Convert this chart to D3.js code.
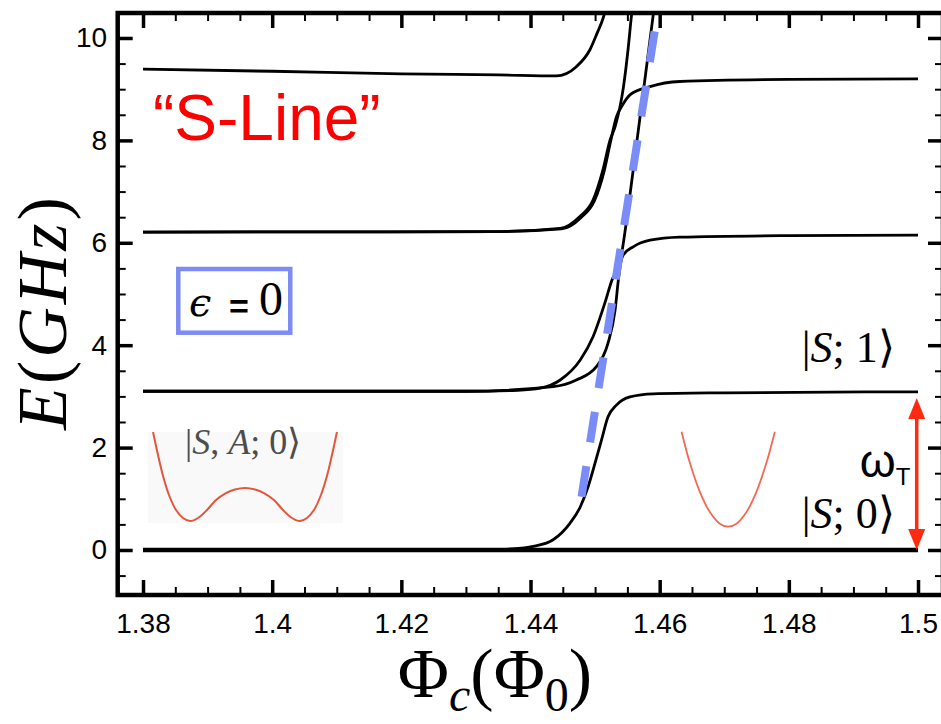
<!DOCTYPE html>
<html><head><meta charset="utf-8">
<script src="https://cdn.jsdelivr.net/npm/d3@7"></script>
<style>body{margin:0;background:#fff}svg{display:block}</style>
</head><body>
<svg id="c" width="941" height="724"></svg>
<script>
// ---- tick data ----
const xTicks = [1.38, 1.40, 1.42, 1.44, 1.46, 1.48, 1.50];
const xTickLabels = ["1.38", "1.4", "1.42", "1.44", "1.46", "1.48", "1.5"];
const yTicks = [0, 2, 4, 6, 8, 10];
const yTickLabels = ["0", "2", "4", "6", "8", "10"];

// ---- energy levels [flux Φc, E (GHz)] ----
const groundLevel = [[1.38, 0], [1.5, 0]];
const level1 = [[1.38,0],[1.432,0],[1.437,0.02],[1.4404,0.07],[1.4435,0.2],[1.4461,0.52],[1.4477,0.84],[1.4489,1.23],[1.4500,1.70],[1.4510,2.15],[1.4520,2.60],[1.4533,2.83],[1.4554,2.99],[1.4590,3.05],[1.470,3.07],[1.5,3.09]];
const level2a = [[1.38,3.1],[1.43,3.1],[1.438,3.12],[1.4415,3.16],[1.4446,3.32],[1.4477,3.71],[1.4497,4.17],[1.4515,4.82],[1.4526,5.27],[1.45385,5.62],[1.4553,6.84],[1.4565,8.01],[1.4577,9.18],[1.4590,10.45],[1.45915,10.6]];
const level2b = [[1.38,3.1],[1.43,3.1],[1.4435,3.19],[1.4471,3.32],[1.4502,3.58],[1.4520,4.04],[1.4531,4.69],[1.4536,5.27],[1.45395,5.6],[1.45435,5.76],[1.4559,5.92],[1.4585,6.05],[1.4631,6.11],[1.48,6.14],[1.5,6.15]];
const level3a = [[1.38,6.21],[1.435,6.22],[1.4446,6.28],[1.4476,6.51],[1.4497,6.84],[1.4512,7.42],[1.4523,8.0],[1.4531,8.27],[1.4544,9.05],[1.4551,9.77],[1.45565,10.45],[1.4558,10.6]];
const level3b = [[1.38,6.21],[1.435,6.22],[1.4448,6.27],[1.4478,6.49],[1.4499,6.82],[1.4514,7.40],[1.4524,7.98],[1.4533,8.46],[1.4541,8.66],[1.4554,8.89],[1.4585,9.05],[1.4631,9.15],[1.48,9.19],[1.5,9.2]];
const level4 = [[1.38,9.39],[1.40,9.35],[1.42,9.30],[1.435,9.28],[1.444,9.26],[1.4471,9.44],[1.4492,9.77],[1.4503,10.09],[1.4513,10.41],[1.4517,10.6]];
const sLine = [[1.4479,1.04],[1.4593,10.19]];

// ---- inset potentials (drawn in chart units) ----
const doubleWell = [[1.38155,2.305],[1.38232,1.855],[1.38310,1.445],[1.38402,1.074],[1.38511,0.781],[1.38619,0.625],[1.38728,0.566],[1.38851,0.625],[1.38991,0.781],[1.39130,0.977],[1.39285,1.113],[1.39424,1.182],[1.39579,1.211],[1.39734,1.182],[1.39873,1.113],[1.40028,0.977],[1.40167,0.781],[1.40307,0.625],[1.40430,0.566],[1.40539,0.625],[1.40647,0.781],[1.40755,1.074],[1.40848,1.445],[1.40926,1.855],[1.41003,2.305]];
const singleWell = [[1.46339,2.311],[1.46467,1.703],[1.46622,1.137],[1.46777,0.742],[1.46932,0.514],[1.47060,0.455],[1.47189,0.514],[1.47344,0.742],[1.47498,1.137],[1.47653,1.703],[1.47783,2.311]];
const gapArrow = [2.97, 0];

const svg = d3.select('#c');
svg.append('rect').attr('width', 941).attr('height', 724).attr('fill', '#fff');

const x = d3.scaleLinear().domain([1.37608, 1.50387]).range([117.7, 943]);
const y = d3.scaleLinear().domain([-0.879, 10.488]).range([595, 13]);
const [x0, x1] = x.range();
const [yb, yt] = y.range();

svg.append('defs').append('clipPath').attr('id', 'clip')
  .append('rect').attr('x', x0).attr('y', yt).attr('width', x1 - x0).attr('height', yb - yt);

const plot = svg.append('g').attr('clip-path', 'url(#clip)');
const line = d3.line().x(d => x(d[0])).y(d => y(d[1])).curve(d3.curveMonotoneX);
const lineC = d3.line().x(d => x(d[0])).y(d => y(d[1])).curve(d3.curveCatmullRom);

// inset background and wells
plot.append('rect').attr('x', x(1.38077)).attr('y', y(2.305)).attr('width', x(1.41096) - x(1.38077))
  .attr('height', y(0.527) - y(2.305)).attr('fill', '#f9f9f9');
plot.append('path').attr('d', lineC(doubleWell)).attr('fill', 'none').attr('stroke', '#e4553c').attr('stroke-width', 2);
plot.append('path').attr('d', lineC(singleWell)).attr('fill', 'none').attr('stroke', '#f26a55').attr('stroke-width', 1.8);

// levels
[level1, level2a, level2b, level3a, level3b, level4].forEach(l => {
  plot.append('path').attr('d', line(l)).attr('fill', 'none').attr('stroke', '#000').attr('stroke-width', 2.8);
});
plot.append('path').attr('d', line(groundLevel)).attr('fill', 'none').attr('stroke', '#000').attr('stroke-width', 4.5);

// dashed S-line
plot.append('path').attr('d', d3.line().x(d => x(d[0])).y(d => y(d[1]))(sLine))
  .attr('fill', 'none').attr('stroke', '#7a8cf8').attr('stroke-width', 8).attr('stroke-dasharray', '31,24');

// axes (inward ticks on all sides)
const xMinor = d3.range(277, 301).filter(i => i % 4 !== 0).map(i => i / 200);
const yMinor = d3.range(-1, 21).filter(i => i % 4 !== 0).map(i => i / 2);
const font = 'Liberation Sans, Arial, Helvetica, sans-serif';

function axisG(axisFn, scale, vals, size, pad, transform, labels) {
  const a = axisFn(scale).tickValues(vals).tickSize(-size).tickPadding(pad);
  if (labels) a.tickFormat((d, i) => labels[i]); else a.tickFormat('');
  const g = svg.append('g').attr('transform', transform).call(a);
  g.select('.domain').remove();
  g.selectAll('.tick line').attr('stroke', '#000').attr('stroke-width', labels ? 3.5 : 2);
  g.selectAll('text').attr('font-family', font).attr('font-size', 28).attr('fill', '#000');
  return g;
}
axisG(d3.axisBottom, x, xTicks, 15, 18, `translate(0,${yb})`, xTickLabels);
axisG(d3.axisBottom, x, xMinor, 8, 0, `translate(0,${yb})`, null);
axisG(d3.axisTop, x, xTicks, 15, 0, `translate(0,${yt})`, null).selectAll('.tick line').attr('stroke-width', 3.5);
axisG(d3.axisTop, x, xMinor, 8, 0, `translate(0,${yt})`, null);
axisG(d3.axisLeft, y, yTicks, 15, 10.5, `translate(${x0},0)`, yTickLabels);
axisG(d3.axisLeft, y, yMinor, 8, 0, `translate(${x0},0)`, null);
axisG(d3.axisRight, y, yTicks, 15, 0, `translate(${x1},0)`, null).selectAll('.tick line').attr('stroke-width', 3.5);
axisG(d3.axisRight, y, yMinor, 8, 0, `translate(${x1},0)`, null);

svg.append('rect').attr('x', x0).attr('y', yt).attr('width', x1 - x0).attr('height', yb - yt)
  .attr('fill', 'none').attr('stroke', '#000').attr('stroke-width', 4.5);

// red gap arrow
const ax = x(1.4998), ayTop = y(gapArrow[0]), ayBot = y(gapArrow[1]);
svg.append('line').attr('x1', ax).attr('x2', ax).attr('y1', ayTop + 12).attr('y2', ayBot - 12)
  .attr('stroke', '#ff2a10').attr('stroke-width', 3.5);
svg.append('path').attr('d', `M${ax},${ayTop}L${ax - 8.5},${ayTop + 21}L${ax + 8.5},${ayTop + 21}Z`).attr('fill', '#ff2a10');
svg.append('path').attr('d', `M${ax},${ayBot}L${ax - 8.5},${ayBot - 21}L${ax + 8.5},${ayBot - 21}Z`).attr('fill', '#ff2a10');

// annotations
const serif = 'Liberation Serif, Times New Roman, serif';
svg.append('text').attr('x', x(1.38155)).attr('y', y(8.008)).attr('font-family', font)
  .attr('font-size', 64).attr('fill', '#ff0000').text('\u201CS-Line\u201D');

svg.append('rect').attr('x', x(1.38546)).attr('y', y(5.488)).attr('width', x(1.40280) - x(1.38546))
  .attr('height', y(4.244) - y(5.488)).attr('fill', '#fff').attr('stroke', '#7d8cf5').attr('stroke-width', 4.5);
svg.append('text').attr('x', x(1.38712)).attr('y', y(4.57)).attr('font-family', 'DejaVu Serif, serif')
  .attr('font-style', 'italic').attr('font-size', 40).attr('fill', '#000').text('\u03F5');
svg.append('text').attr('x', x(1.39331)).attr('y', y(4.53)).attr('font-family', font)
  .attr('font-weight', 'bold').attr('font-size', 34).attr('fill', '#000').text('=');
svg.append('text').attr('x', x(1.39796)).attr('y', y(4.59)).attr('font-family', serif)
  .attr('font-size', 48).attr('fill', '#000').text('0');

function ket(xv, yv, size, anchor, color, parts) {
  const el = svg.append('text').attr('x', x(xv)).attr('y', y(yv)).attr('font-family', serif)
    .attr('font-size', size).attr('text-anchor', anchor).attr('fill', color);
  parts.forEach(p => el.append('tspan').attr('font-style', p[1] ? 'italic' : 'normal').text(p[0]));
  return el;
}
ket(1.3865, 1.87, 36, 'start', '#4d4d4d', [['|', 0], ['S', 1], [', ', 0], ['A', 1], ['; 0\u27E9', 0]]);
ket(1.49641, 3.672, 44, 'end', '#000', [['|', 0], ['S', 1], ['; 1\u27E9', 0]]);
ket(1.49641, 0.43, 44, 'end', '#000', [['|', 0], ['S', 1], ['; 0\u27E9', 0]]);

const om = svg.append('text').attr('x', x(1.49099)).attr('y', y(1.426)).attr('font-family', font)
  .attr('font-size', 46).attr('fill', '#000');
om.append('tspan').text('\u03C9');
om.append('tspan').attr('font-size', 24).attr('dy', 8).text('T');

// axis titles
const yt2 = svg.append('text').attr('transform', 'translate(66,312) rotate(-90)').attr('text-anchor', 'middle')
  .attr('font-family', serif).attr('font-size', 70).attr('letter-spacing', 3).attr('fill', '#000');
yt2.append('tspan').attr('font-style', 'italic').text('E');
yt2.append('tspan').text('(');
yt2.append('tspan').attr('font-style', 'italic').text('GHz');
yt2.append('tspan').text(')');

const xt = svg.append('text').attr('x', x(1.4345)).attr('y', 697).attr('text-anchor', 'middle')
  .attr('font-family', serif).attr('font-size', 70).attr('fill', '#000');
xt.append('tspan').text('\u03A6');
xt.append('tspan').attr('font-style', 'italic').attr('font-size', 48).attr('dy', 14).text('c');
xt.append('tspan').attr('dy', -14).text('(\u03A6');
xt.append('tspan').attr('font-size', 48).attr('dy', 14).text('0');
xt.append('tspan').attr('dy', -14).text(')');
</script>
</body></html>
